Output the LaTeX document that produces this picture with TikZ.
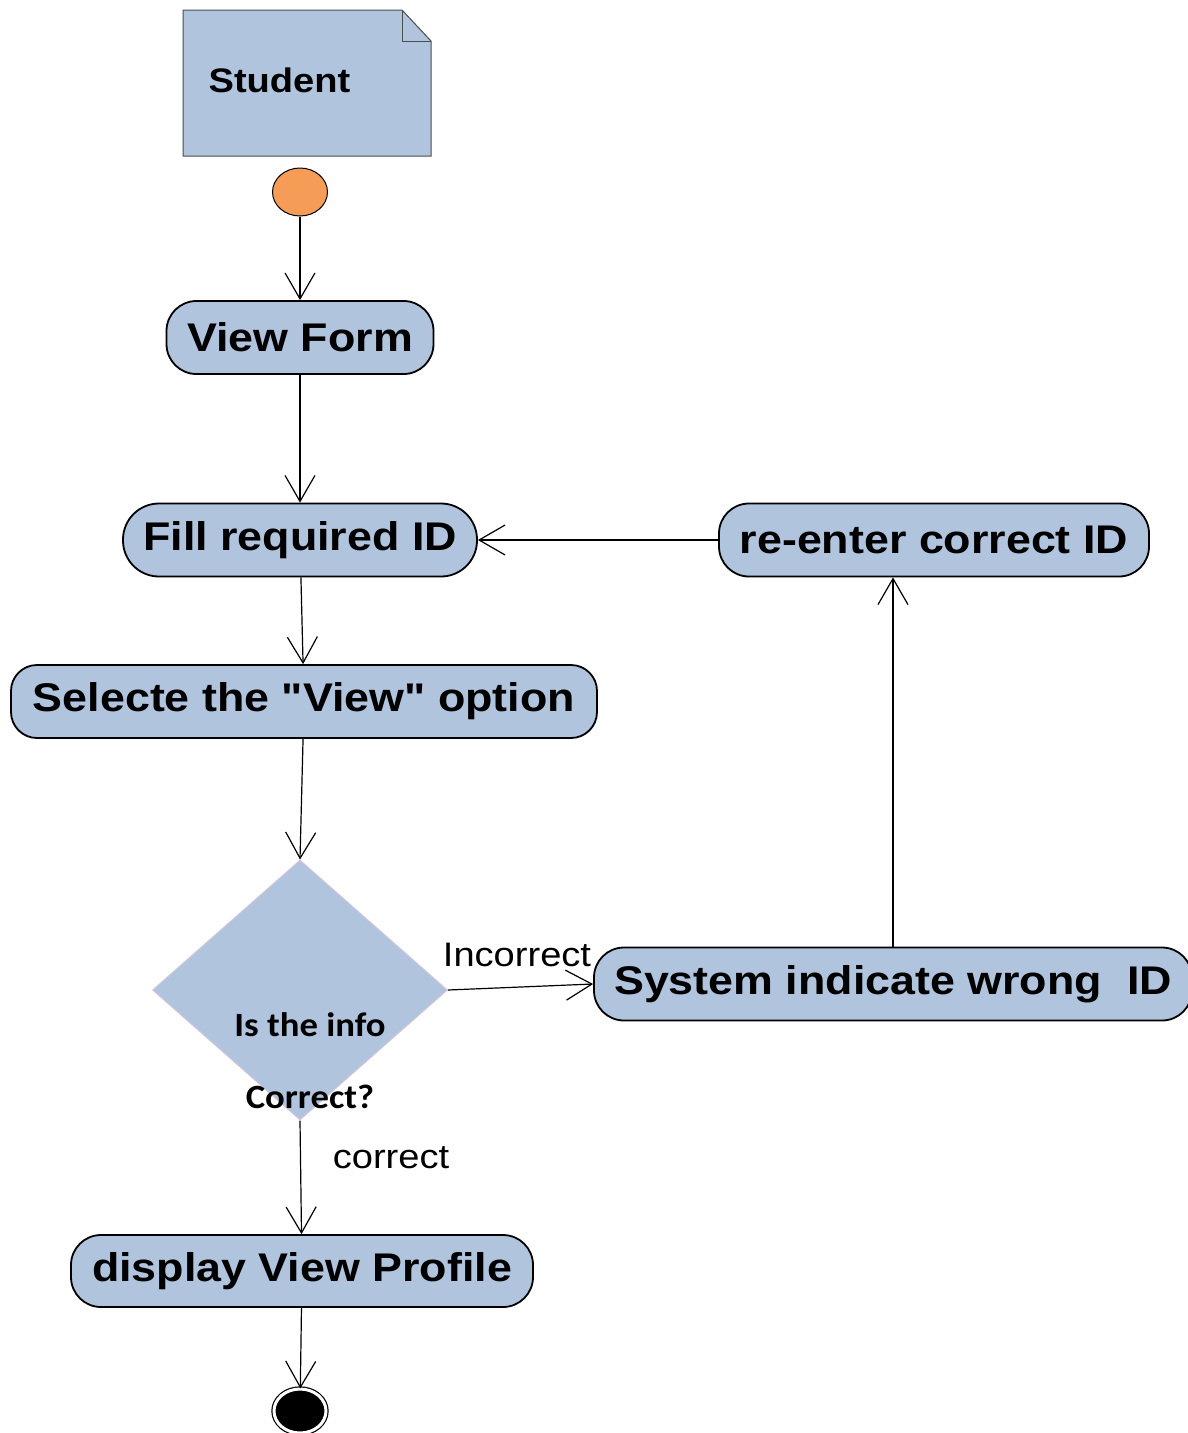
\documentclass[tikz,border=0pt]{standalone}
\usepackage{fontspec}
\newfontfamily\arialfont[FakeStretch=1.12]{Liberation Sans}
\newfontfamily\calfont[FakeStretch=1.08]{Carlito}
\usetikzlibrary{arrows.meta,shapes.geometric}
\definecolor{actblue}{HTML}{B0C4DE}
\definecolor{startorange}{HTML}{F59D56}
\definecolor{decborder}{HTML}{D2C6DC}

\begin{document}
\begin{tikzpicture}[x=1pt,y=-1pt,line width=1.2pt,>={Straight Barb[length=26pt,width=30pt]}]
    \tikzstyle{act} = [shape=rectangle,rounded corners=30pt,draw,line width=1.8pt,fill=actblue,minimum height=73pt,inner sep=0pt,font=\arialfont\bfseries\fontsize{40}{48}\selectfont]
    \tikzstyle{lbl} = [inner sep=0pt,font=\arialfont\fontsize{34}{40}\selectfont]
    \useasboundingbox (0,0) rectangle (1188,1433);
    % swimlane note
    \draw [fill=actblue,draw=black!70,line width=1pt] (183,10) -- (402,10) -- (431,41) -- (431,156) -- (183,156) -- cycle;
    \draw [draw=black!70,line width=1pt] (402,10) -- (402,41) -- (431,41);
    \node [anchor=west,inner sep=0pt,font=\arialfont\bfseries\fontsize{34}{40}\selectfont] (student) at (208,80) {Student};
    \node [shape=ellipse,draw,line width=1pt,fill=startorange,minimum width=55pt,minimum height=48pt] (start) at (300,192) {};
    \node [act,minimum width=267pt] (vform) at (300,337.5) {View Form};
    \node [act,rounded corners=36pt,minimum width=354pt] (fill) at (300,540) {Fill required ID};
    \node [act,minimum width=430pt] (reenter) at (934,540) {re-enter correct ID};
    \node [act,rounded corners=26pt,minimum width=586pt] (select) at (304,701.5) {Selecte the "View" option};
    \node [shape=diamond,fill=actblue,draw=decborder,line width=1pt,inner sep=0pt,minimum width=295pt,minimum height=260pt] (check) at (300,990) {};
    \node [align=center,inner sep=0pt,font=\calfont\bfseries\fontsize{34}{72}\selectfont] (checktxt) at (310,1061) {Is the info\\Correct?};
    \node [act,minimum width=598pt] (sysw) at (893,984) {System indicate wrong~~ID};
    \node [act,minimum width=462pt,minimum height=72pt] (display) at (302,1271) {display View Profile};
    \node [shape=ellipse,draw,line width=1.2pt,fill=black,double=white,double distance=3pt,minimum width=52pt,minimum height=44pt] (stop) at (300,1411) {};
    \node [lbl] (incorrect) at (517,955) {Incorrect};
    \node [lbl] (correct) at (391,1158) {correct};
    \draw [->] (start) -- (vform);
    \draw [->] (vform) -- (fill);
    \draw [->] (fill) -- (select);
    \draw [->] (select) -- (check.north);
    \draw [->] (check.east) -- (sysw.west);
    \draw [->] (sysw.north) -- (sysw.north |- reenter.south);
    \draw [->] (reenter) -- (fill);
    \draw [->] (check.south) -- (display);
    \draw [->] (display) -- (stop);
\end{tikzpicture}
\end{document}
